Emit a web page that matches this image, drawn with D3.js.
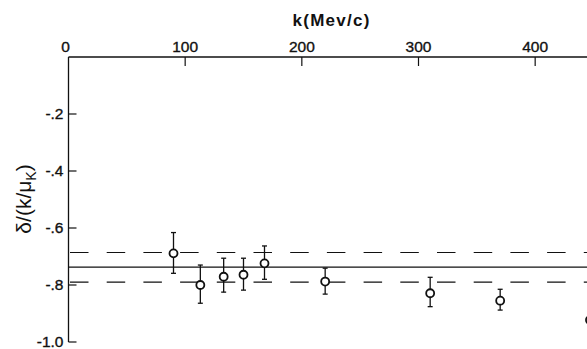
<!DOCTYPE html>
<html><head><meta charset="utf-8">
<script src="https://cdn.jsdelivr.net/npm/d3@7"></script>
<style>
html,body{margin:0;padding:0;background:#fff;}
svg{display:block;}
text{font-family:"Liberation Sans",Arial,sans-serif;fill:#111;}
</style></head>
<body>
<svg id="c" width="587" height="349"></svg>
<script>
// ---- data ----
const kValues   = [90, 113, 133, 150, 168, 220, 310, 370, 447];
const ratio     = [-0.689, -0.800, -0.771, -0.764, -0.724, -0.788, -0.829, -0.855, -0.923];
const errTop    = [-0.616, -0.730, -0.706, -0.706, -0.663, -0.741, -0.773, -0.815, -0.88];
const errBottom = [-0.759, -0.864, -0.825, -0.818, -0.780, -0.832, -0.876, -0.888, -0.97];
const meanValue = -0.737;
const bandValues = [-0.686, -0.790];
const xTicks = [0, 100, 200, 300, 400];
const yTicks = [-0.2, -0.4, -0.6, -0.8, -1.0];
const yTickLabels = ["-.2", "-.4", "-.6", "-.8", "-1.0"];
const xTitle = "k(Mev/c)";

const svg = d3.select("#c");
const x = d3.scaleLinear().domain([0, 450]).range([68.5, 593.5]);
const y = d3.scaleLinear().domain([0, -1]).range([57, 342]);
const W = 587;

// top axis
const gx = svg.append("g").attr("transform", `translate(0,${y(0)})`);
gx.append("line").attr("x1", x(0)).attr("x2", W).attr("y1", 0).attr("y2", 0)
  .attr("stroke", "#111").attr("stroke-width", 1.3);
gx.selectAll("line.t").data(xTicks.filter(d => d > 0)).enter().append("line")
  .attr("class", "t").attr("x1", d => x(d)).attr("x2", d => x(d))
  .attr("y1", 0).attr("y2", 9).attr("stroke", "#111").attr("stroke-width", 1.2);
gx.selectAll("text").data(xTicks).enter().append("text")
  .attr("x", d => x(d) - (d === 0 ? 3 : 0)).attr("y", -5)
  .attr("text-anchor", "middle").attr("font-size", 15.5)
  .attr("stroke", "#111").attr("stroke-width", 0.35).text(d => d);

svg.append("text").attr("x", 331).attr("y", 26).attr("text-anchor", "middle")
  .attr("font-size", 17).attr("font-weight", "bold").attr("textLength", 77)
  .attr("lengthAdjust", "spacing").text(xTitle);

// left axis
const gy = svg.append("g").attr("transform", `translate(${x(0)},0)`);
gy.append("line").attr("x1", 0).attr("x2", 0).attr("y1", y(0)).attr("y2", y(-1))
  .attr("stroke", "#111").attr("stroke-width", 1.3);
gy.selectAll("line.t").data(yTicks).enter().append("line")
  .attr("class", "t").attr("x1", 0).attr("x2", 8)
  .attr("y1", d => y(d)).attr("y2", d => y(d)).attr("stroke", "#111").attr("stroke-width", 1.2);
gy.selectAll("text").data(yTicks).enter().append("text")
  .attr("x", -5).attr("y", d => y(d) + 5).attr("text-anchor", "end")
  .attr("font-size", 15.5).attr("stroke", "#111").attr("stroke-width", 0.35)
  .text((d, i) => yTickLabels[i]);

// y title
const yt = svg.append("text").attr("transform", "translate(31,199) rotate(-90)")
  .attr("text-anchor", "middle").attr("font-size", 21);
yt.append("tspan").text("δ/(k/μ");
yt.append("tspan").attr("font-size", 14).attr("dy", 5).text("K");
yt.append("tspan").attr("dy", -5).text(")");

// reference lines
svg.append("line").attr("x1", x(0)).attr("x2", W).attr("y1", y(meanValue)).attr("y2", y(meanValue))
  .attr("stroke", "#111").attr("stroke-width", 1.3);
svg.selectAll("line.band").data(bandValues).enter().append("line").attr("class", "band")
  .attr("x1", x(0) + 1.5).attr("x2", W).attr("y1", d => y(d)).attr("y2", d => y(d))
  .attr("stroke", "#111").attr("stroke-width", 1.2).attr("stroke-dasharray", "18.5 18.2");

// data
const pts = kValues.map((k, i) => ({k, v: ratio[i], t: errTop[i], b: errBottom[i]}));
const g = svg.append("g");
g.selectAll("line.e").data(pts).enter().append("line").attr("class", "e")
  .attr("x1", d => x(d.k)).attr("x2", d => x(d.k)).attr("y1", d => y(d.t)).attr("y2", d => y(d.b))
  .attr("stroke", "#111").attr("stroke-width", 1.3);
["t", "b"].forEach(key => {
  g.selectAll("line.c" + key).data(pts).enter().append("line").attr("class", "c" + key)
    .attr("x1", d => x(d.k) - 2.5).attr("x2", d => x(d.k) + 2.5)
    .attr("y1", d => y(d[key])).attr("y2", d => y(d[key]))
    .attr("stroke", "#111").attr("stroke-width", 1.3);
});
g.selectAll("circle").data(pts).enter().append("circle")
  .attr("cx", d => x(d.k)).attr("cy", d => y(d.v)).attr("r", 4)
  .attr("fill", "#fff").attr("stroke", "#111").attr("stroke-width", 1.8);
</script>
</body></html>
